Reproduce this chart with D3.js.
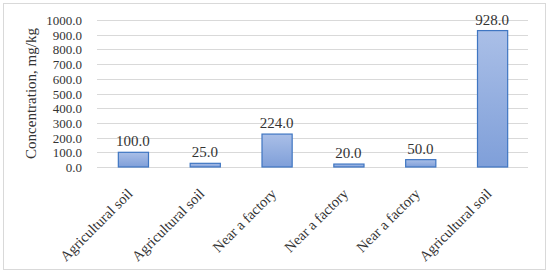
<!DOCTYPE html>
<html>
<head>
<meta charset="utf-8">
<script src="https://cdn.jsdelivr.net/npm/d3@7"></script>
<style>
  body { margin: 0; background: #fff; }
  text { font-family: "Liberation Serif", "DejaVu Serif", serif; fill: #333; }
</style>
</head>
<body>
<div id="container"></div>
<script>
'use strict';

//Data
const sites = ['Agricultural soil', 'Agricultural soil', 'Near a factory', 'Near a factory', 'Near a factory', 'Agricultural soil'];
const concentrations = [100, 25, 224, 20, 50, 928];
const yTicks = [0, 100, 200, 300, 400, 500, 600, 700, 800, 900, 1000];

//Sizing
const VIZ = {
    WIDTH: 550,
    HEIGHT: 276,
    MARGIN: { LEFT: 97, TOP: 20, RIGHT: 22, BOTTOM: 109 }
};
const width = VIZ.WIDTH - VIZ.MARGIN.LEFT - VIZ.MARGIN.RIGHT;
const height = VIZ.HEIGHT - VIZ.MARGIN.TOP - VIZ.MARGIN.BOTTOM;

const svg = d3.select('#container')
    .append('svg')
    .attr('width', VIZ.WIDTH)
    .attr('height', VIZ.HEIGHT);

//Outer frame
svg.append('rect')
    .attr('x', 3.5).attr('y', 3.5)
    .attr('width', 542).attr('height', 266)
    .attr('fill', '#fff')
    .attr('stroke', '#d9d9d9');

//Gradient for bars
const grad = svg.append('defs').append('linearGradient')
    .attr('id', 'barFill')
    .attr('x1', 0).attr('y1', 0).attr('x2', 0).attr('y2', 1);
grad.append('stop').attr('offset', '0%').attr('stop-color', '#aabfe7');
grad.append('stop').attr('offset', '100%').attr('stop-color', '#7f9fd9');

const vis = svg.append('g')
    .attr('transform', `translate(${VIZ.MARGIN.LEFT} ${VIZ.MARGIN.TOP})`);

//Scales
const x = d3.scaleBand()
    .domain(d3.range(sites.length))
    .range([0, width])
    .paddingInner(0.58)
    .paddingOuter(0.29);
const y = d3.scaleLinear()
    .domain([0, 1000])
    .range([height, 0]);

//Grid
vis.append('g')
    .selectAll('line')
    .data(yTicks)
    .join('line')
    .attr('x1', 0).attr('x2', width)
    .attr('y1', d => Math.round(y(d)) + 0.5)
    .attr('y2', d => Math.round(y(d)) + 0.5)
    .attr('stroke', '#d9d9d9');

//Y axis
const yAxis = vis.append('g')
    .attr('transform', 'translate(-15 0)')
    .call(d3.axisLeft(y).tickValues(yTicks).tickSize(0).tickFormat(d3.format('.1f')));
yAxis.select('.domain').remove();
yAxis.selectAll('text')
    .attr('x', 0)
    .attr('dy', '0.35em')
    .style('font-size', '13px')
    .style('font-family', '"Liberation Serif", serif')
    .attr('fill', '#333');

svg.append('text')
    .attr('transform', `translate(36 ${VIZ.MARGIN.TOP + height / 2}) rotate(-90)`)
    .attr('text-anchor', 'middle')
    .style('font-size', '15px')
    .text('Concentration, mg/kg');

//Bars
vis.selectAll('rect.bar')
    .data(concentrations)
    .join('rect')
    .attr('class', 'bar')
    .attr('x', (d, i) => x(i) + 0.5)
    .attr('y', d => y(d))
    .attr('width', x.bandwidth())
    .attr('height', d => height - y(d))
    .attr('fill', 'url(#barFill)')
    .attr('stroke', '#3f76c2')
    .attr('stroke-width', 1.2);

//Value labels
vis.selectAll('text.value')
    .data(concentrations)
    .join('text')
    .attr('class', 'value')
    .attr('x', (d, i) => x(i) + x.bandwidth() / 2)
    .attr('y', d => y(d) - 6)
    .attr('text-anchor', 'middle')
    .style('font-size', '15px')
    .text(d => d3.format('.1f')(d));

//X labels
vis.selectAll('text.site')
    .data(sites)
    .join('text')
    .attr('class', 'site')
    .attr('transform', (d, i) => `translate(${x(i) + x.bandwidth() / 2 - 3} ${height + 24}) rotate(-45)`)
    .attr('text-anchor', 'end')
    .attr('dy', '0.35em')
    .style('font-size', '14.5px')
    .text(d => d);
</script>
</body>
</html>
